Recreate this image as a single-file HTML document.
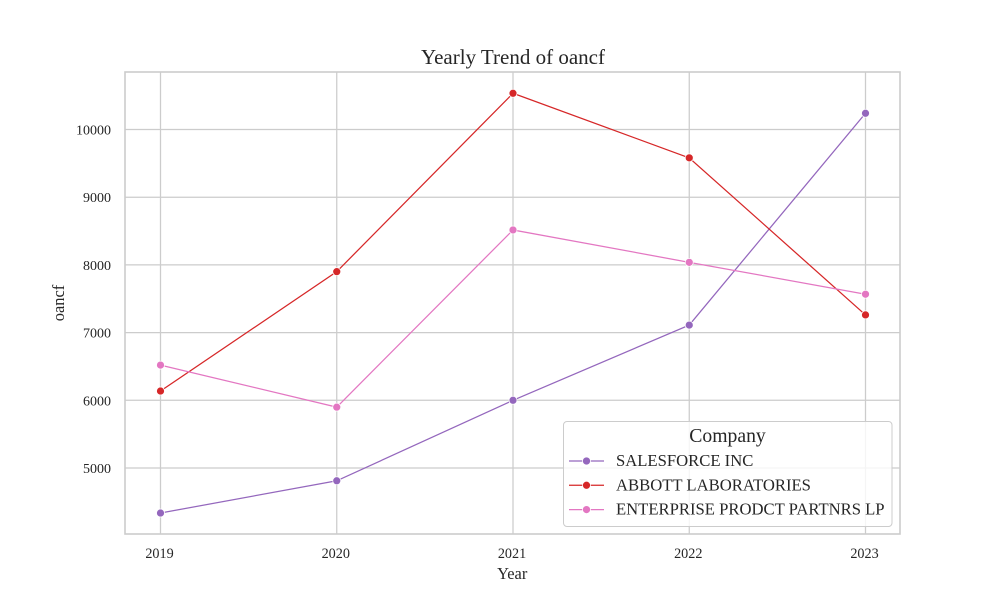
<!DOCTYPE html>
<html>
<head>
<meta charset="utf-8">
<style>
html,body{margin:0;padding:0;background:#fff;}
svg{display:block;font-family:"Liberation Serif",serif;}
text{fill:#262626;}
</style>
</head>
<body>
<svg id="chart" width="1000" height="600" viewBox="0 0 1000 600" xmlns="http://www.w3.org/2000/svg"></svg>
<script>
const years = [2019, 2020, 2021, 2022, 2023];
const yTicks = [5000, 6000, 7000, 8000, 9000, 10000];
const seriesNames = ["SALESFORCE INC", "ABBOTT LABORATORIES", "ENTERPRISE PRODCT PARTNRS LP"];
const salesforce = [4335, 4811, 6000, 7111, 10240];
const abbott = [6137, 7900, 10535, 9581, 7261];
const enterprise = [6520, 5899, 8516, 8038, 7567];
const seriesValues = [salesforce, abbott, enterprise];
const seriesColors = ["#9467bd", "#d62728", "#e377c2"];

const svg = document.getElementById('chart');
const NS = 'http://www.w3.org/2000/svg';
function xScale(v){ return 160.5 + (v - 2019) * (865.5 - 160.5) / 4; }
function yScale(v){ return 468 - (v - 5000) * (468 - 129.5) / 5000; }
function mk(tag, attrs, parent){
  const e = document.createElementNS(NS, tag);
  for (const k in attrs) e.setAttribute(k, attrs[k]);
  (parent || svg).appendChild(e);
  return e;
}
function label(str, attrs, parent){
  const e = mk('text', attrs, parent);
  e.textContent = str;
  return e;
}

const gridColor = '#cccccc';
const grid = mk('g', {});


years.forEach(function(y){
  const l = mk('line', {x1:xScale(y), x2:xScale(y), y1:72, y2:534, stroke:gridColor, 'stroke-width':1.25}, grid);
  
  
});
yTicks.forEach(function(v){
  const l = mk('line', {x1:125, x2:900, y1:yScale(v), y2:yScale(v), stroke:gridColor, 'stroke-width':1.25}, grid);
  
  
});

seriesValues.forEach(function(vals, i){
  const g = mk('g', {});
  
  
  const pts = vals.map(function(v, j){ return xScale(years[j]) + ',' + yScale(v); }).join(' ');
  const line = mk('polyline', {points:pts, fill:'none', stroke:seriesColors[i], 'stroke-width':1.25}, g);
  
  
  vals.forEach(function(v, j){
    const c = mk('circle', {cx:xScale(years[j]), cy:yScale(v), r:4, fill:seriesColors[i], stroke:'#ffffff', 'stroke-width':0.75}, g);
    
    
  });
});

const frame = mk('rect', {x:125, y:72, width:775, height:462, fill:'none', stroke:gridColor, 'stroke-width':1.6});



years.forEach(function(y){
  const t = label(String(y), {x:xScale(y) - 1, y:558, 'text-anchor':'middle', 'font-size':14.2});
  
  
});
yTicks.forEach(function(v){
  const t = label(String(v), {x:111, y:yScale(v) + 5, 'text-anchor':'end', 'font-size':14});
  
  
});

const title = label('Yearly Trend of oancf', {x:513, y:64, 'text-anchor':'middle', 'font-size':21});


const xTitle = label('Year', {x:512.2, y:579, 'text-anchor':'middle', 'font-size':16.4});


const yTitle = label('oancf', {x:0, y:0, 'text-anchor':'middle', 'font-size':16.4, transform:'translate(64 303) rotate(-90)'});



const legend = mk('g', {});


const box = mk('rect', {x:563.5, y:421.5, width:328.5, height:105, rx:3.5, fill:'#ffffff', 'fill-opacity':0.8, stroke:gridColor, 'stroke-width':1}, legend);


const lt = label('Company', {x:727.5, y:442, 'text-anchor':'middle', 'font-size':19.7}, legend);


seriesNames.forEach(function(name, i){
  const ry = 461 + i * 24.3;
  const g = mk('g', {}, legend);
  
  
  const l = mk('line', {x1:569, x2:604, y1:ry, y2:ry, stroke:seriesColors[i], 'stroke-width':1.25}, g);
  
  
  const c = mk('circle', {cx:586.5, cy:ry, r:4, fill:seriesColors[i], stroke:'#ffffff', 'stroke-width':0.75}, g);
  
  
  const t = label(name, {x:616, y:ry + 5, 'font-size':16.65}, g);
  
  
});
</script>
</body>
</html>
